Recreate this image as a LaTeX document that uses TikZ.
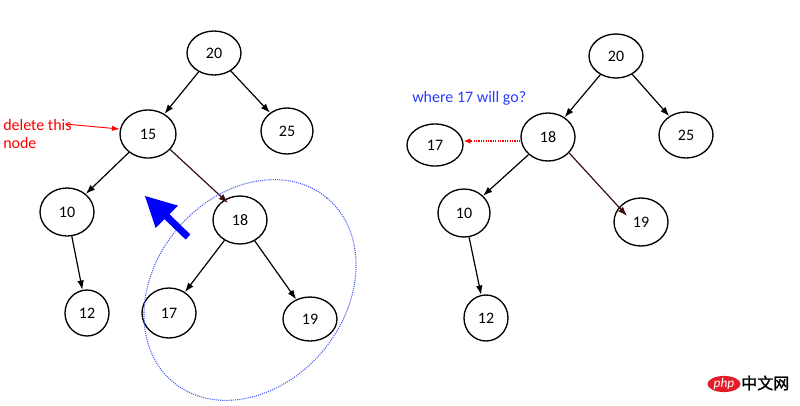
\documentclass[tikz,border=0pt]{standalone}
\usepackage{fontspec}
\setmainfont{Carlito}
\newfontfamily\cjkfont[FakeBold=1.5]{Noto Sans CJK SC}
\usetikzlibrary{shapes.geometric,arrows.meta}
\definecolor{edgebrown}{RGB}{60,15,15}
\definecolor{hlblue}{RGB}{70,90,245}
\definecolor{txtblue}{RGB}{40,60,255}
\definecolor{phpred}{RGB}{225,30,40}
\begin{document}
\begin{tikzpicture}[x=0.75pt,y=-0.75pt,
  tn/.style={ellipse, draw, line width=1pt, inner sep=0pt, font=\fontsize{12}{14}\selectfont},
  sz/.style 2 args={minimum width=#1*1.5pt, minimum height=#2*1.5pt},
  edge/.style={line width=0.9pt, -{Latex[length=7pt,width=5pt]}},
  brownedge/.style={edge, draw=edgebrown},
  redarrow/.style={line width=0.7pt, red, -{Latex[length=6pt,width=4pt]}},
  reddots/.style={line width=0.8pt, red, dash pattern=on 0.9pt off 0.9pt, -{Latex[length=5pt,width=4pt]}},
  lbl/.style={inner sep=0pt, font=\fontsize{12}{13.5}\selectfont, align=left, anchor=west},
]
\useasboundingbox (0,0) rectangle (800,405);

% ---------- left tree ----------
\node[tn, sz={27}{22}] (l20) at (214,53) {20};
\node[tn, sz={28}{24}] (l15) at (148,134) {15};
\node[tn, sz={26}{23}] (l25) at (287,131) {25};
\node[tn, sz={27}{24}] (l10) at (67,212) {10};
\node[tn, sz={22}{23}] (l12) at (87,313) {12};
\node[tn, sz={27}{24}] (l18) at (240,220) {18};
\node[tn, sz={27}{25}] (l17) at (169,313) {17};
\node[tn, sz={27}{22}] (l19) at (310,319) {19};

\draw[edge] (l20) -- (l15);
\draw[edge] (l20) -- (l25);
\draw[edge] (l15) -- (l10);
\draw[edge] (l10) -- (l12);
\draw[edge] (l18) -- (l17);
\draw[edge] (l18) -- (l19);
\draw[brownedge] (l15.325) -- ([shift={(-12,-17)}]l18.center);

% highlight ellipse
\node[ellipse, draw=hlblue, line width=0.8pt, dash pattern=on 0.8pt off 0.8pt,
      minimum width=240*0.75pt, minimum height=190*0.75pt, rotate=50] (hl) at (250,290) {};

% big blue arrow
\fill[blue] (145,196) -- (178,205.6) -- (169.5,214.2) -- (190.4,234.5)
  -- (185.6,239.5) -- (164.5,219.2) -- (155.6,228) -- cycle;

% delete label
\node[lbl, text=red] (del) at (3,134) {delete this\\node};
\coordinate (delA) at (65,124);
\draw[redarrow] (delA) -- (l15.170);

% ---------- right tree ----------
\node[tn, sz={27}{22}] (r20) at (616,56) {20};
\node[tn, sz={27}{24}] (r18) at (548,137) {18};
\node[tn, sz={28}{21}] (r17) at (435,145) {17};
\node[tn, sz={27}{23}] (r25) at (686,135) {25};
\node[tn, sz={26}{24}] (r10) at (464,213) {10};
\node[tn, sz={22}{23}] (r12) at (486,318) {12};
\node[tn, sz={27}{24}] (r19) at (641,222) {19};

\draw[edge] (r20) -- (r18);
\draw[edge] (r20) -- (r25);
\draw[edge] (r18) -- (r10);
\draw[edge] (r10) -- (r12);
\draw[brownedge] (r18.323) -- ([shift={(-14,-6)}]r19.center);

\node[lbl, text=txtblue] (where) at (412,98) {where 17 will go?};
\coordinate (ry) at (0,141);
\draw[reddots] (r18.west |- ry) -- (r17.east |- ry);

% ---------- watermark ----------
\node[ellipse, fill=phpred, minimum width=33*0.75pt, minimum height=16*0.75pt, inner sep=0pt,
      text=white, font=\fontsize{10}{10}\selectfont\itshape] (php) at (724,384) {php};
\node[inner sep=0pt, anchor=west, font=\cjkfont\fontsize{12}{12}\selectfont] (cn) at (741,383) {中文网};
\end{tikzpicture}
\end{document}
